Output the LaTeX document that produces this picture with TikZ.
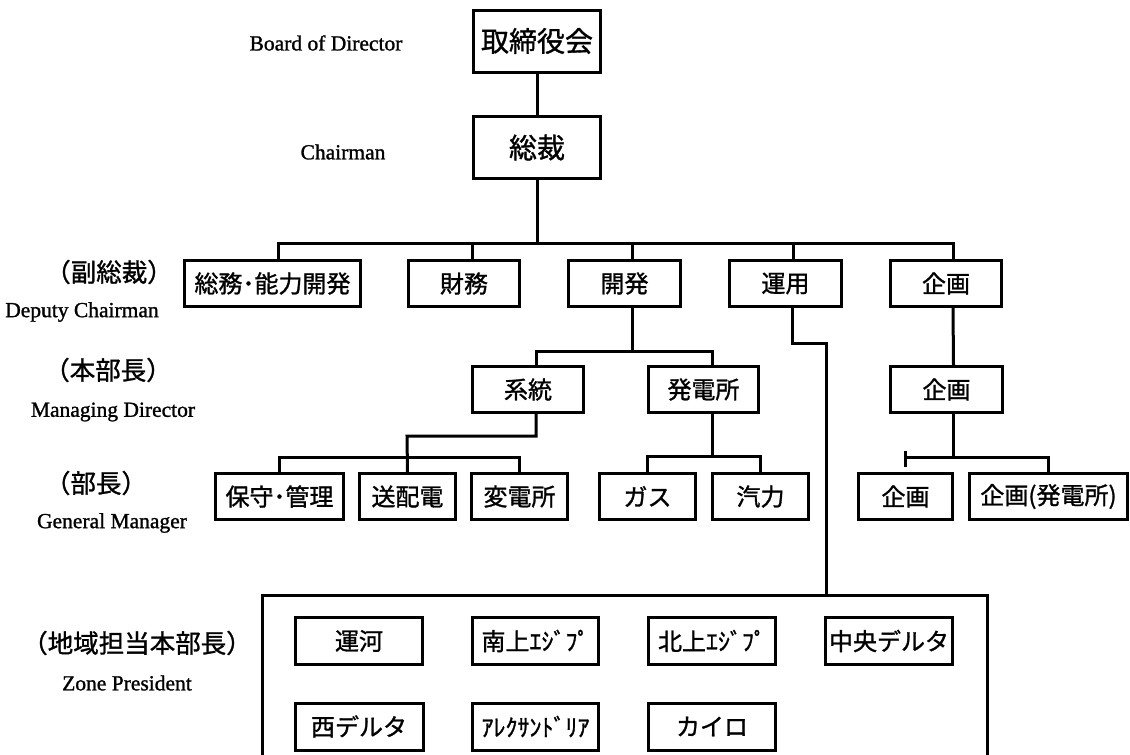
\documentclass[tikz,border=0pt]{standalone}
\usepackage{fontspec}
\setmainfont{Liberation Serif}[FakeBold=1.2]
\newfontfamily\jp{Noto Sans CJK JP}[FakeBold=1.2]
\usetikzlibrary{calc}
\begin{document}
\begin{tikzpicture}[x=1pt,y=-1pt,
  box/.style={draw, line width=3pt, inner sep=0pt, align=center, font=\jp\fontsize{24}{28}\selectfont},
  topbox/.style={box, font=\jp\fontsize{28}{32}\selectfont},
  conn/.style={line width=3pt},
  frame/.style={line width=3pt},
  en/.style={inner sep=0pt, font=\fontsize{21.5}{24}\selectfont},
  jl/.style={inner sep=0pt, font=\jp\fontsize{25.5}{28}\selectfont}]
\useasboundingbox (0,0) rectangle (1130,755);

% level 0
\node[topbox, minimum width=127pt, minimum height=62pt] (bod) at (537,41) {取締役会};
\node[topbox, minimum width=127pt, minimum height=62pt] (chair) at (537,147.5) {総裁};

% level 1
\node[box, minimum width=176pt, minimum height=46pt] (soumu) at (272.5,283.5) {総務･能力開発};
\node[box, minimum width=111pt, minimum height=46pt] (zaimu) at (464,283.5) {財務};
\node[box, minimum width=112pt, minimum height=46pt] (kaihatsu) at (624.5,283.5) {開発};
\node[box, minimum width=112pt, minimum height=46pt] (unyou) at (785.5,283.5) {運用};
\node[box, minimum width=111pt, minimum height=46pt] (kikaku) at (946,283.5) {企画};

% level 2
\node[box, minimum width=111pt, minimum height=46pt] (keitou) at (528,389.5) {系統};
\node[box, minimum width=110pt, minimum height=46pt] (hatsuden) at (703.5,389.5) {発電所};
\node[box, minimum width=112pt, minimum height=46pt] (kikaku2) at (946.5,389.5) {企画};

% level 3
\node[box, minimum width=128pt, minimum height=46pt] (hoshu) at (279.5,496.5) {保守･管理};
\node[box, minimum width=96pt, minimum height=46pt] (souhai) at (407.5,496.5) {送配電};
\node[box, minimum width=96pt, minimum height=46pt] (henden) at (519.5,496.5) {変電所};
\node[box, minimum width=96pt, minimum height=46pt] (gas) at (647.5,496.5) {ガス};
\node[box, minimum width=96pt, minimum height=46pt] (kiryoku) at (760.5,496.5) {汽力};
\node[box, minimum width=94pt, minimum height=46pt] (kikaku3) at (905.5,496.5) {企画};
\node[box, minimum width=158pt, minimum height=46pt] (kikakuH) at (1048.5,496.5) {企画(発電所)};

% zone boxes
\node[box, minimum width=127pt, minimum height=47pt] (unga) at (359,641) {運河};
\node[box, minimum width=126pt, minimum height=47pt] (minami) at (535.5,641) {南上ｴｼﾞﾌﾟ};
\node[box, minimum width=127pt, minimum height=47pt] (kita) at (712,641) {北上ｴｼﾞﾌﾟ};
\node[box, minimum width=127pt, minimum height=47pt] (chuo) at (889,641) {中央デルタ};
\node[box, minimum width=128pt, minimum height=47pt] (nishi) at (359,726.5) {西デルタ};
\node[box, minimum width=126pt, minimum height=47pt] (alex) at (535.5,726.5) {ｱﾚｸｻﾝﾄﾞﾘｱ};
\node[box, minimum width=127pt, minimum height=47pt] (cairo) at (712,726.5) {カイロ};

% zone frame (bottom cut off by the page edge)
\draw[frame] (262,770) -- (262,595) -- (987,595) -- (987,770);

% left labels
\node[en] (lbod) at (326,43) {Board of Director};
\node[en] (lchair) at (343,152) {Chairman};
\node[jl] (ldep) at (109,272) {（副総裁）};
\node[en] (ldepe) at (82,312) {Deputy Chairman};
\node[jl] (lman) at (108,370) {（本部長）};
\node[en] (lmane) at (113,412) {Managing Director};
\node[jl] (lgm) at (96,483) {（部長）};
\node[en] (lgme) at (112,523) {General Manager};
\node[jl] (lzone) at (137,643) {（地域担当本部長）};
\node[en] (lzonee) at (127,683) {Zone President};

% connectors
\coordinate (bus1) at (537,243);
\draw[conn] (bod) -- (chair);
\draw[conn] (chair) -- (bus1);
\draw[conn] ([xshift=6pt]soumu.north) -- ([xshift=6pt]soumu.north |- bus1) -- ([xshift=7pt]kikaku.north |- bus1) -- ([xshift=7pt]kikaku.north);
\draw[conn] ([xshift=8pt]zaimu.north) -- ([xshift=8pt]zaimu.north |- bus1);
\draw[conn] ([xshift=8pt]kaihatsu.north) -- ([xshift=8pt]kaihatsu.north |- bus1);
\draw[conn] ([xshift=8pt]unyou.north) -- ([xshift=8pt]unyou.north |- bus1);

\coordinate (bus2) at (632,351);
\draw[conn] ([xshift=8pt]kaihatsu.south) -- ([xshift=8pt]kaihatsu.south |- bus2);
\draw[conn] ([xshift=8pt]keitou.north) -- ([xshift=8pt]keitou.north |- bus2) -- ([xshift=9pt]hatsuden.north |- bus2) -- ([xshift=9pt]hatsuden.north);

\coordinate (ubend) at (826,343);
\coordinate (zonetop) at (826,595);
\draw[conn] ([xshift=7pt]unyou.south) |- (ubend) -- (zonetop);

\draw[conn] ([xshift=7pt]kikaku.south) -- ([xshift=7pt]kikaku2.north);

\coordinate (kbend) at (407,436);
\coordinate (bus3) at (407,457);
\draw[conn] ([xshift=8pt]keitou.south) |- (kbend) -- (souhai.north);
\draw[conn] (hoshu.north) -- (hoshu.north |- bus3) -- (henden.north |- bus3) -- (henden.north);

\coordinate (bus4) at (713,456);
\draw[conn] ([xshift=9pt]hatsuden.south) -- ([xshift=9pt]hatsuden.south |- bus4);
\draw[conn] (gas.north) -- (gas.north |- bus4) -- (kiryoku.north |- bus4) -- (kiryoku.north);

\coordinate (bus5) at (953,457);
\coordinate (ticktop) at (905,451);
\coordinate (tickbot) at (905,467);
\draw[conn] ([xshift=7pt]kikaku2.south) -- ([xshift=7pt]kikaku2.south |- bus5);
\draw[conn] (ticktop) -- (tickbot);
\draw[conn] (tickbot |- bus5) -- (kikakuH.north |- bus5) -- (kikakuH.north);
\end{tikzpicture}
\end{document}
